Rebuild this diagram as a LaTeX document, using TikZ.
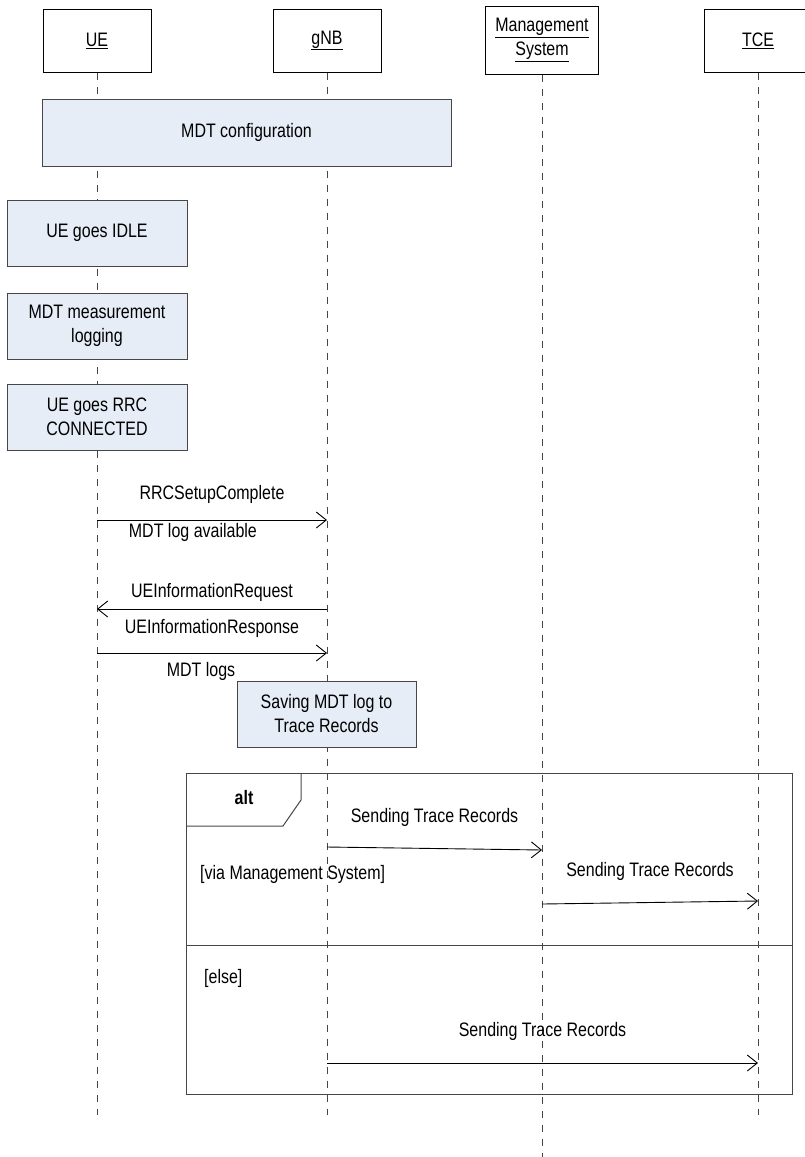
\documentclass[tikz,border=0pt]{standalone}
\usepackage{fontspec}
\setmainfont{Liberation Sans}[FakeStretch=0.82]
\usetikzlibrary{arrows.meta,positioning}
\definecolor{statefill}{RGB}{230,237,247}
\definecolor{linegray}{RGB}{70,70,70}

\begin{document}
\begin{tikzpicture}[
  x=1pt, y=-1pt,
  font=\fontsize{19.5}{24}\selectfont,
  actor/.style={draw=black, fill=white, line width=1pt, align=center, inner sep=0pt, minimum width=108pt, minimum height=63pt},
  state/.style={draw=linegray, fill=statefill, line width=1pt, align=center, inner sep=0pt, minimum width=180pt, minimum height=66pt},
  life/.style={linegray, line width=1pt, dash pattern=on 7pt off 7pt},
  msg/.style={-{Straight Barb[length=10pt, width=16pt]}, line width=0.9pt, black},
  lbl/.style={inner sep=0pt, text height=14pt, text depth=4pt},
  frame/.style={draw=linegray, line width=1pt}
]
\useasboundingbox (0,0) rectangle (805,1157);

% lifeline heads
\node[actor] (ue) at (97,40.5) {\underline{UE}};
\node[actor] (gnb) at (327,40.5) {\underline{gNB}};
\node[actor, minimum width=113pt, minimum height=68pt] (ms) at (542,40) {\underline{Management}\\\underline{System}};
\node[actor] (tce) at (758,40.5) {\underline{TCE}};

% lifelines
\coordinate (ueEnd) at (97,1115);
\coordinate (gnbEnd) at (327,1115);
\coordinate (msEnd) at (542,1157);
\coordinate (tceEnd) at (758,1115);
\draw[life] (ue.south) -- (ueEnd);
\draw[life] (gnb.south) -- (gnbEnd);
\draw[life] (ms.south) -- (msEnd);
\draw[life] (tce.south) -- (tceEnd);

% states
\node[state, minimum width=409pt, minimum height=67pt] (cfg) at (246.5,132.5) {MDT configuration};
\node[state] (idle) at (97,233) {UE goes IDLE};
\node[state, below=26pt of idle] (logging) {MDT measurement\\logging};
\node[state, below=24pt of logging] (conn) {UE goes RRC\\CONNECTED};

% RRC messages
\coordinate (m1a) at (97,520);  \coordinate (m1b) at (327,520);
\coordinate (m2a) at (327,609); \coordinate (m2b) at (97,609);
\coordinate (m3a) at (97,653);  \coordinate (m3b) at (327,653);
\draw[msg] (m1a) -- node[lbl, above=16pt] {RRCSetupComplete}
  node[lbl, pos=0.417, below=3pt] {MDT log available} (m1b);
\draw[msg] (m2a) -- node[lbl, above=7pt] {UEInformationRequest} (m2b);
\draw[msg] (m3a) -- node[lbl, above=15pt] {UEInformationResponse}
  node[lbl, pos=0.452, below=9pt] {MDT logs} (m3b);

\node[state, minimum width=179pt] (save) at (326.5,714) {Saving MDT log to\\Trace Records};

% alt fragment
\node[frame, minimum width=606pt, minimum height=321pt, inner sep=0pt] (alt) at (489,933.5) {};
\draw[frame] (186,826) -- (283,826) -- (301,800) -- (301,773);
\node[lbl, font=\fontsize{19.5}{24}\selectfont\bfseries] (altlbl) at (244,799) {alt};
\coordinate (sepL) at (186,945); \coordinate (sepR) at (792,945);
\draw[frame] (sepL) -- (sepR);
\node[lbl, anchor=west] (via) at (200,874) {[via Management System]};
\node[lbl, anchor=west] (else) at (204,978) {[else]};

\coordinate (s1a) at (327,847);  \coordinate (s1b) at (542,850);
\coordinate (s2a) at (542,904);  \coordinate (s2b) at (758,901);
\coordinate (s3a) at (327,1063); \coordinate (s3b) at (758,1063);
\draw[msg] (s1a) -- node[lbl, above=21.5pt] {Sending Trace Records} (s1b);
\draw[msg] (s2a) -- node[lbl, above=21.5pt] {Sending Trace Records} (s2b);
\draw[msg] (s3a) -- node[lbl, above=22pt] {Sending Trace Records} (s3b);
\end{tikzpicture}
\end{document}
